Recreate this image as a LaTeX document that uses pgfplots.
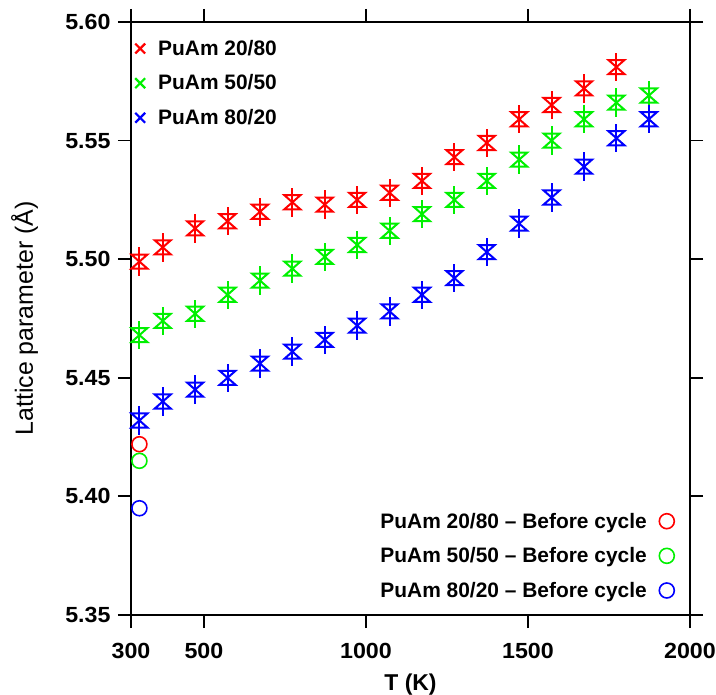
\documentclass[border=0pt]{standalone}
\usepackage{fontspec}
\setmainfont{Liberation Sans}
\newfontface\tickfont[FakeStretch=1.06]{Liberation Sans Bold}
\newfontface\labfont{Liberation Sans Bold}
\newfontface\regfont{Liberation Sans}
\usepackage{pgfplots}
\pgfplotsset{compat=1.18}

\pgfdeclareplotmark{hglass}{%
  \pgfpathmoveto{\pgfqpoint{-\pgfplotmarksize}{0.88\pgfplotmarksize}}%
  \pgfpathlineto{\pgfqpoint{\pgfplotmarksize}{-0.88\pgfplotmarksize}}%
  \pgfpathlineto{\pgfqpoint{-\pgfplotmarksize}{-0.88\pgfplotmarksize}}%
  \pgfpathlineto{\pgfqpoint{\pgfplotmarksize}{0.88\pgfplotmarksize}}%
  \pgfpathclose
  \pgfusepathqstroke
}

\definecolor{cred}{RGB}{255,0,0}
\definecolor{cgreen}{RGB}{0,240,0}
\definecolor{cblue}{RGB}{0,0,255}

\pgfplotstableread{
T     a
301   5.499
373   5.505
473   5.513
573   5.516
673   5.520
773   5.524
873   5.523
973   5.525
1073  5.528
1173  5.533
1273  5.543
1373  5.549
1473  5.559
1573  5.565
1673  5.572
1773  5.581
}\redtab
\pgfplotstableread{
T     a
301   5.468
373   5.474
473   5.477
573   5.485
673   5.491
773   5.496
873   5.501
973   5.506
1073  5.512
1173  5.519
1273  5.525
1373  5.533
1473  5.542
1573  5.550
1673  5.559
1773  5.566
1873  5.569
}\greentab
\pgfplotstableread{
T     a
301   5.432
373   5.440
473   5.445
573   5.450
673   5.456
773   5.461
873   5.466
973   5.472
1073  5.478
1173  5.485
1273  5.492
1373  5.503
1473  5.515
1573  5.526
1673  5.539
1773  5.551
1873  5.559
}\bluetab

\pgfplotsset{
  base/.style={
    scale only axis, width=559bp, height=593bp,
    xmin=275, xmax=2000, ymin=5.35, ymax=5.60,
  },
  serie/.style={
    forget plot, only marks, mark=hglass, mark size=8bp, line width=2bp, color=#1,
    mark options={line width=2bp},
    error bars/y dir=both, error bars/y fixed=0.006, error bars/error mark=none,
    error bars/error bar style={line width=2bp, color=#1},
  },
}

\begin{document}
\begin{tikzpicture}
\begin{axis}[base,
  xtick={275,500,1000,1500,2000},
  xticklabels={300,500,1000,1500,2000},
  ytick={5.35,5.40,5.45,5.50,5.55,5.60},
  /pgf/number format/assume math mode=true,
  tick label style={font=\tickfont\fontsize{22}{22}\selectfont},
  xticklabel style={yshift=-12bp},
  yticklabel style={xshift=-4bp, /pgf/number format/.cd, fixed, fixed zerofill, precision=2},
  tick align=outside, major tick length=13bp,
  axis line style={line width=1.8bp},
  every tick/.style={black, line width=1.8bp},
  xlabel={T (K)}, ylabel={Lattice parameter (Å)},
  xlabel style={font=\labfont\fontsize{23}{23}\selectfont,
    at={(axis description cs:0.5,0)}, anchor=base, yshift=-75bp},
  ylabel style={font=\regfont\fontsize{25}{25}\selectfont,
    at={(axis description cs:-0.1905,0.5)}, anchor=center},
  legend style={at={(axis description cs:0,1)}, anchor=north west,
    xshift=0bp, yshift=-16bp, draw=none, fill=none,
    font=\labfont\fontsize{21}{21}\selectfont,
    row sep=14bp, inner sep=0pt},
  legend cell align=left,
  legend image code/.code={\path[draw=none, fill=none] (0bp,0bp) (25bp,0bp);
    \draw[#1] plot coordinates {(9bp,0bp)};},
]
\coordinate (SW) at (rel axis cs:0,0);
\coordinate (NE) at (rel axis cs:1,1);
\addlegendimage{only marks, mark=x, mark size=7bp, line width=2.2bp, cred}
\addlegendentry{PuAm 20/80}
\addlegendimage{only marks, mark=x, mark size=7bp, line width=2.2bp, cgreen}
\addlegendentry{PuAm 50/50}
\addlegendimage{only marks, mark=x, mark size=7bp, line width=2.2bp, cblue}
\addlegendentry{PuAm 80/20}
\addplot[serie=cred] table[x=T, y=a] {\redtab};
\addplot[serie=cgreen] table[x=T, y=a] {\greentab};
\addplot[serie=cblue] table[x=T, y=a] {\bluetab};
\end{axis}
\begin{axis}[base, hide axis,
  legend style={at={(axis description cs:1,0)}, anchor=south east,
    xshift=-15bp, yshift=14bp, draw=none, fill=none,
    font=\labfont\fontsize{21}{21}\selectfont,
    row sep=14bp, inner sep=0pt},
  legend cell align=right, legend plot pos=right,
  legend image code/.code={\path[draw=none, fill=none] (0bp,0bp) (26bp,0bp);
    \draw[#1] plot coordinates {(18bp,0bp)};},
]
\addplot[only marks, mark=o, mark size=7.5bp, line width=1.6bp, cred] coordinates {(301,5.422)};
\addlegendentry{PuAm 20/80 – Before cycle}
\addplot[only marks, mark=o, mark size=7.5bp, line width=1.6bp, cgreen] coordinates {(301,5.415)};
\addlegendentry{PuAm 50/50 – Before cycle}
\addplot[only marks, mark=o, mark size=7.5bp, line width=1.6bp, cblue] coordinates {(301,5.395)};
\addlegendentry{PuAm 80/20 – Before cycle}
\end{axis}
\pgfresetboundingbox
\path[use as bounding box] ([shift={(-131bp,-80bp)}]SW) rectangle ([shift={(26bp,22bp)}]NE);
\end{tikzpicture}
\end{document}
